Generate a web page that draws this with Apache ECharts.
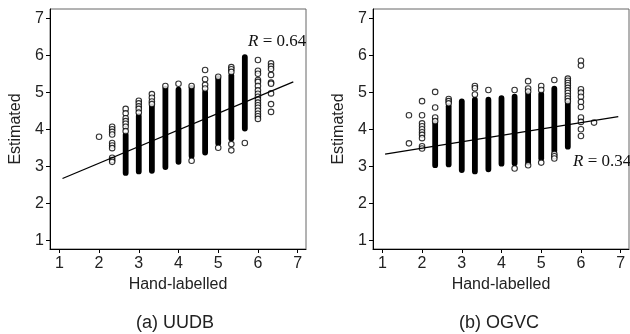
<!DOCTYPE html>
<html>
<head>
<meta charset="utf-8">
<script src="https://cdn.jsdelivr.net/npm/echarts@6/dist/echarts.min.js"></script>
<style>
  html, body { margin: 0; padding: 0; background: #fff; }
  #chart { width: 630px; height: 334px; }
</style>
</head>
<body>
<div id="chart"></div>
<script>
// tick labels on both axes
const tickValues = [1, 2, 3, 4, 5, 6, 7];

// UUDB: dense stacks of points per hand-labelled level [x, low, high]
const uudbColumns = [
  [2.67, 2.82, 3.85], [3, 2.86, 4.36], [3.33, 2.88, 4.62], [3.67, 2.98, 5.1],
  [4, 3.12, 5.07], [4.33, 3.28, 5.12], [4.67, 3.37, 5.0], [5, 3.62, 5.38],
  [5.33, 3.75, 5.45], [5.67, 4.02, 5.95]
];
// UUDB: individually visible points [x, y]
const uudbPoints = [
  [2, 3.8],
  [2.33, 4.07], [2.33, 4.0], [2.33, 3.93], [2.33, 3.86], [2.33, 3.63], [2.33, 3.56],
  [2.33, 3.49], [2.33, 3.23], [2.33, 3.17], [2.33, 3.12],
  [2.67, 4.55], [2.67, 4.43], [2.67, 4.3], [2.67, 4.22], [2.67, 4.15], [2.67, 4.07], [2.67, 3.95],
  [3, 4.77], [3, 4.7], [3, 4.62], [3, 4.55], [3, 4.45],
  [3.33, 4.95], [3.33, 4.85], [3.33, 4.75], [3.33, 4.68],
  [3.67, 5.17], [4, 5.23], [4.33, 5.17], [4.33, 3.15],
  [4.67, 5.6], [4.67, 5.35], [4.67, 5.2], [4.67, 5.1],
  [5, 5.42], [5, 3.5],
  [5.33, 5.68], [5.33, 5.62], [5.33, 5.55], [5.33, 3.6], [5.33, 3.43],
  [5.67, 3.63],
  [6, 5.87], [6, 5.58], [6, 5.5], [6, 5.33], [6, 5.28], [6, 5.17], [6, 5.05], [6, 4.96],
  [6, 4.88], [6, 4.8], [6, 4.72], [6, 4.65], [6, 4.58], [6, 4.5], [6, 4.42], [6, 4.35], [6, 4.28],
  [6.33, 5.78], [6.33, 5.7], [6.33, 5.63], [6.33, 5.47], [6.33, 5.26], [6.33, 5.23],
  [6.33, 4.97], [6.33, 4.68], [6.33, 4.47]
];
const uudbFit = [[1.08, 2.67], [6.89, 5.28]];

// OGVC
const ogvcColumns = [
  [2.33, 3.03, 4.16], [2.67, 3.05, 4.62], [3, 2.9, 4.75], [3.33, 2.86, 4.8],
  [3.67, 2.92, 4.8], [4, 3.07, 4.84], [4.33, 3.08, 4.88], [4.67, 3.1, 4.95],
  [5, 3.22, 4.95], [5.33, 3.42, 5.1], [5.67, 3.53, 4.7]
];
const ogvcPoints = [
  [1.67, 4.38], [1.67, 3.62],
  [2, 4.76], [2, 4.38], [2, 4.16], [2, 4.08], [2, 4.0], [2, 3.92], [2, 3.85], [2, 3.76],
  [2, 3.54], [2, 3.48],
  [2.33, 5.01], [2.33, 4.59], [2.33, 4.32], [2.33, 4.22],
  [2.67, 4.82], [2.67, 4.76], [2.67, 4.7],
  [3.33, 5.17], [3.33, 5.11], [3.33, 4.94],
  [3.67, 5.06],
  [4.33, 5.06], [4.33, 2.94],
  [4.67, 5.3], [4.67, 5.1], [4.67, 5.02], [4.67, 3.03],
  [5, 5.17], [5, 5.06], [5, 3.1],
  [5.33, 5.33], [5.33, 3.33], [5.33, 3.27], [5.33, 3.21],
  [5.67, 5.37], [5.67, 5.31], [5.67, 5.25], [5.67, 5.19], [5.67, 5.12], [5.67, 5.05],
  [5.67, 4.98], [5.67, 4.9], [5.67, 4.83], [5.67, 4.76],
  [6, 5.85], [6, 5.72], [6, 5.08], [6, 4.99], [6, 4.88], [6, 4.74], [6, 4.6], [6, 4.32],
  [6, 4.2], [6, 4.0], [6, 3.82],
  [6.33, 4.18]
];
const ogvcFit = [[1.07, 3.33], [6.94, 4.34]];

const labelColor = '#222';
const font = 'Liberation Sans, Arial, sans-serif';

function makeX(i) {
  return {
    gridIndex: i, type: 'value', min: 0.765, max: 7.21,
    name: 'Hand-labelled', nameLocation: 'middle', nameGap: 28,
    nameTextStyle: { fontFamily: font, fontSize: 16, color: labelColor },
    axisLine: { onZero: false, lineStyle: { color: '#000', width: 1 } },
    axisTick: { show: true, length: 4, customValues: tickValues, lineStyle: { color: '#000' } },
    axisLabel: { customValues: tickValues, fontFamily: font, fontSize: 16, color: labelColor, margin: 7 },
    splitLine: { show: false }
  };
}
function makeY(i) {
  return {
    gridIndex: i, type: 'value', min: 0.765, max: 7.25,
    name: 'Estimated', nameLocation: 'middle', nameGap: 26,
    nameTextStyle: { fontFamily: font, fontSize: 16, color: labelColor },
    axisLine: { onZero: false, lineStyle: { color: '#000', width: 1 } },
    axisTick: { show: true, length: 4, customValues: tickValues, lineStyle: { color: '#000' } },
    axisLabel: { customValues: tickValues, fontFamily: font, fontSize: 16, color: labelColor, margin: 6 },
    splitLine: { show: false }
  };
}

function renderColumn(params, api) {
  const top = api.coord([api.value(0), api.value(2)]);
  const bot = api.coord([api.value(0), api.value(1)]);
  const w = 5.8;
  return {
    type: 'rect',
    shape: { x: top[0] - w / 2, y: top[1] - w / 2, width: w, height: bot[1] - top[1] + w, r: w / 2 },
    style: { fill: '#000' }
  };
}

function seriesFor(i, columns, points, fit) {
  return [
    {
      type: 'custom', xAxisIndex: i, yAxisIndex: i, data: columns,
      renderItem: renderColumn, encode: { x: 0, y: [1, 2] }, silent: true
    },
    {
      type: 'scatter', xAxisIndex: i, yAxisIndex: i, data: points,
      symbol: 'circle', symbolSize: 5.5,
      itemStyle: { color: '#fff', borderColor: '#000', borderWidth: 1.1 }, silent: true
    },
    {
      type: 'line', xAxisIndex: i, yAxisIndex: i, data: fit, showSymbol: false,
      lineStyle: { color: '#000', width: 1.3 }, silent: true, z: 5
    }
  ];
}

const chart = echarts.init(document.getElementById('chart'), null, { renderer: 'canvas' });
chart.setOption({
  animation: false,
  grid: [
    { left: 50, top: 9, width: 256, height: 240, show: true, borderColor: '#666', borderWidth: 1 },
    { left: 373, top: 9, width: 256, height: 240, show: true, borderColor: '#666', borderWidth: 1 }
  ],
  xAxis: [makeX(0), makeX(1)],
  yAxis: [makeY(0), makeY(1)],
  series: [
    ...seriesFor(0, uudbColumns, uudbPoints, uudbFit),
    ...seriesFor(1, ogvcColumns, ogvcPoints, ogvcFit)
  ],
  graphic: [
    {
      type: 'text', x: 248, y: 42,
      style: {
        text: '{i|R} = 0.64', textVerticalAlign: 'middle',
        font: '17px Liberation Serif', fill: '#111',
        rich: { i: { fontStyle: 'italic', fontFamily: 'Liberation Serif', fontSize: 17 } }
      }
    },
    {
      type: 'text', x: 573, y: 162,
      style: {
        text: '{i|R} = 0.34', textVerticalAlign: 'middle',
        font: '17px Liberation Serif', fill: '#111',
        rich: { i: { fontStyle: 'italic', fontFamily: 'Liberation Serif', fontSize: 17 } }
      }
    },
    {
      type: 'text', x: 175, y: 323,
      style: { text: '(a) UUDB', textAlign: 'center', textVerticalAlign: 'middle', font: '18px Liberation Sans', fill: labelColor }
    },
    {
      type: 'text', x: 499, y: 323,
      style: { text: '(b) OGVC', textAlign: 'center', textVerticalAlign: 'middle', font: '18px Liberation Sans', fill: labelColor }
    }
  ]
});
</script>
</body>
</html>
